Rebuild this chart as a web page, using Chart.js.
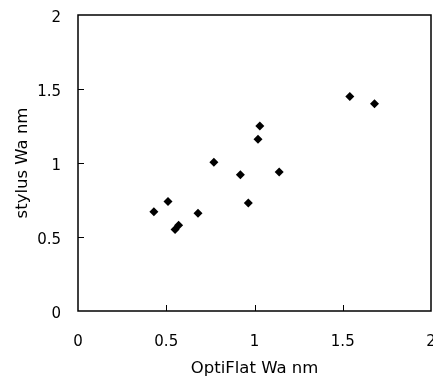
<!DOCTYPE html>
<html>
<head>
<meta charset="utf-8">
<script src="https://cdn.jsdelivr.net/npm/chart.js@4/dist/chart.umd.min.js"></script>
<style>
  html, body { margin: 0; padding: 0; background: #fff; overflow: hidden; }
  canvas { display: block; }
</style>
</head>
<body>
<canvas id="scatterChart" width="437" height="379"></canvas>
<script>
const optiFlatWa = [0.43, 0.51, 0.55, 0.57, 0.68, 0.77, 0.92, 0.965, 1.02, 1.03, 1.14, 1.54, 1.68];
const stylusWa = [0.67, 0.74, 0.55, 0.58, 0.66, 1.005, 0.92, 0.73, 1.16, 1.25, 0.94, 1.45, 1.40];
const tickValues = [0, 0.5, 1, 1.5, 2];

const FONT = "'DejaVu Sans', sans-serif";

const points = optiFlatWa.map((x, i) => ({ x, y: stylusWa[i] }));

// box round the plot area and short inward tick marks
const frameTicks = {
  id: 'frameTicks',
  afterDraw(chart) {
    const { ctx, chartArea, scales } = chart;
    const { left, right, top, bottom } = chartArea;
    ctx.save();
    ctx.strokeStyle = '#000';
    ctx.lineWidth = 1.5;
    ctx.strokeRect(left, top, right - left, bottom - top);
    ctx.lineWidth = 1;
    tickValues.slice(1, -1).forEach((v) => {
      const px = Math.round(scales.x.getPixelForValue(v)) + 0.5;
      ctx.beginPath();
      ctx.moveTo(px, bottom);
      ctx.lineTo(px, bottom - 6);
      ctx.stroke();
      const py = Math.round(scales.y.getPixelForValue(v)) + 0.5;
      ctx.beginPath();
      ctx.moveTo(left, py);
      ctx.lineTo(left + 6, py);
      ctx.stroke();
    });
    ctx.restore();
  },
};

const fmt = (v) => String(v);

new Chart(document.getElementById('scatterChart'), {
  type: 'scatter',
  data: {
    datasets: [
      {
        data: points,
        pointStyle: 'rectRot',
        pointRadius: 4.5,
        backgroundColor: '#000',
        borderColor: '#000',
        borderWidth: 0,
      },
    ],
  },
  options: {
    responsive: false,
    animation: false,
    layout: { padding: { top: 15, left: 0, right: 0, bottom: 0 } },
    plugins: {
      legend: { display: false },
      tooltip: { enabled: false },
    },
    scales: {
      x: {
        type: 'linear',
        min: 0,
        max: 2,
        afterBuildTicks: (scale) => { scale.ticks = tickValues.map((value) => ({ value })); },
        afterFit: (scale) => {
          scale.height = 68;
          scale.paddingRight = 6;
          scale.paddingLeft = 0;
        },
        grid: { display: false },
        border: { display: false },
        ticks: { color: '#000', font: { family: FONT, size: 15 }, padding: 14, maxRotation: 0, callback: fmt },
        title: { display: true, text: 'OptiFlat Wa nm', color: '#000', font: { family: FONT, size: 16.5 }, padding: { top: 5, bottom: 0 } },
      },
      y: {
        type: 'linear',
        min: 0,
        max: 2,
        afterBuildTicks: (scale) => { scale.ticks = tickValues.map((value) => ({ value })); },
        afterFit: (scale) => {
          scale.width = 78;
          scale.paddingTop = 0;
        },
        grid: { display: false },
        border: { display: false },
        ticks: { color: '#000', font: { family: FONT, size: 15 }, padding: 9, labelOffset: 3, callback: fmt },
        title: { display: true, text: 'stylus Wa nm', color: '#000', font: { family: FONT, size: 16.5 }, padding: { top: 13, bottom: 0 } },
      },
    },
  },
  plugins: [frameTicks],
});
</script>
</body>
</html>
